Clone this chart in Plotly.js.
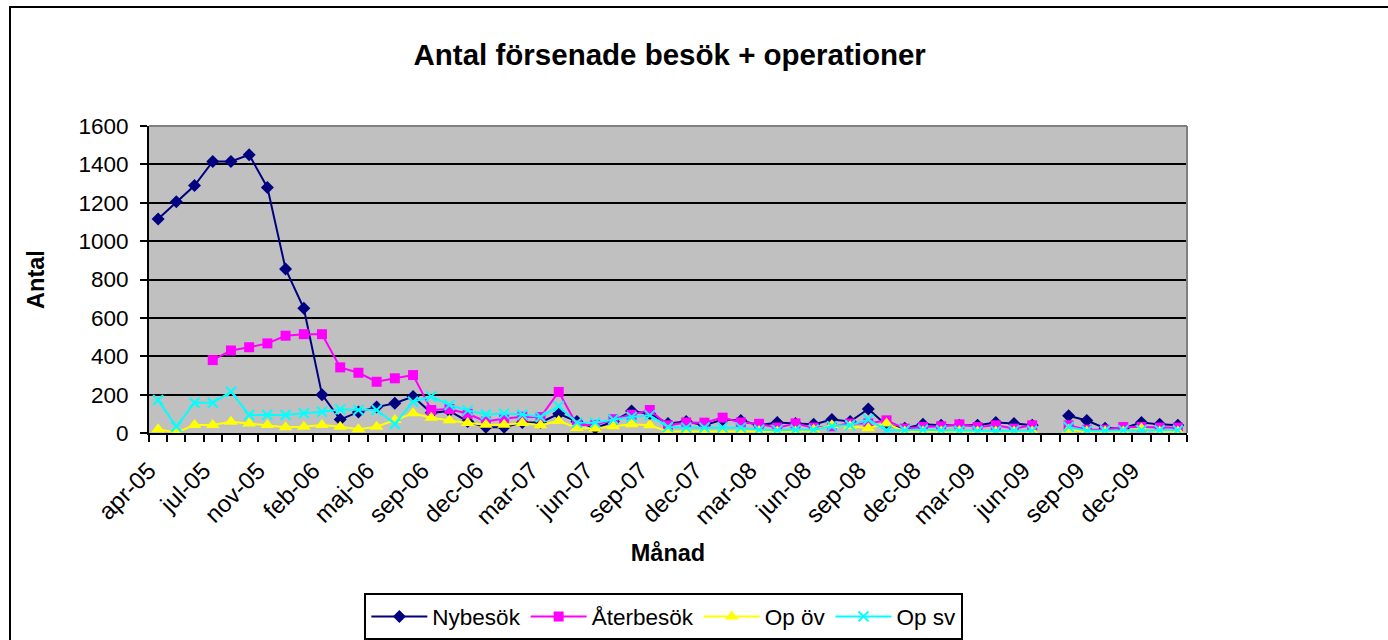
<!DOCTYPE html>
<html>
<head>
<meta charset="utf-8">
<script src="https://cdn.plot.ly/plotly-3.0.1.min.js"></script>
<style>
  html, body { margin: 0; padding: 0; background: #ffffff; }
  #chart { position: absolute; left: 0; top: 0; width: 1388px; height: 640px; }
  #frame { position: absolute; left: 9px; top: 6px; width: 1400px; height: 700px;
           border-left: 2px solid #000; border-top: 2px solid #000; pointer-events: none; }
</style>
</head>
<body>
<div id="chart"></div>
<div id="frame"></div>
<script>
// Month categories (57 points; aug-05 and jul-06 absent in the source)
const months = [
  "apr-05","maj-05","jun-05","jul-05","sep-05","okt-05","nov-05","dec-05","jan-06",
  "feb-06","mar-06","apr-06","maj-06","jun-06","aug-06","sep-06","okt-06","nov-06",
  "dec-06","jan-07","feb-07","mar-07","apr-07","maj-07","jun-07","jul-07","aug-07",
  "sep-07","okt-07","nov-07","dec-07","jan-08","feb-08","mar-08","apr-08","maj-08",
  "jun-08","jul-08","aug-08","sep-08","okt-08","nov-08","dec-08","jan-09","feb-09",
  "mar-09","apr-09","maj-09","jun-09","jul-09","aug-09","sep-09","okt-09","nov-09",
  "dec-09","jan-10","feb-10"
];

const nybesok = [
  1115,1205,1290,1415,1415,1450,1280,855,650,
  200,70,110,135,155,190,105,115,60,
  30,30,55,55,100,60,25,60,115,
  100,50,60,40,70,65,40,55,50,
  45,70,60,125,40,25,45,40,40,
  40,55,50,40,null,90,65,25,25,
  55,45,40
];

const aterbesok = [
  null,null,null,380,430,447,467,507,515,
  515,342,314,267,285,302,120,125,100,
  60,75,85,83,214,42,42,72,95,
  120,40,55,54,80,55,48,28,50,
  28,35,49,50,66,23,31,35,45,
  31,40,23,40,null,40,17,17,31,
  31,28,28
];

const opOv = [
  20,2,42,42,59,50,42,30,33,
  42,33,19,33,68,103,80,66,52,
  43,43,52,40,63,26,23,35,45,
  40,8,8,8,8,10,10,8,8,
  17,40,35,25,49,8,8,8,10,
  8,8,8,8,null,17,8,8,8,
  23,8,8
];

const opSv = [
  172,33,158,158,215,94,94,94,103,
  111,123,120,120,47,163,190,146,118,
  96,101,96,83,139,54,54,70,83,
  92,31,28,28,28,28,17,14,17,
  17,35,40,70,14,14,17,14,12,
  10,10,12,12,null,31,12,12,14,
  14,14,14
];

const yTicks = [0,200,400,600,800,1000,1200,1400,1600];

const xIdx = months.map((m, i) => i);
const labelIdx = xIdx.filter(i => i % 3 === 0);
const labelText = labelIdx.map(i => months[i]);
// rotated labels sit slightly left of their category centre in the source
const labelPos = labelIdx.map(i => i - 0.5);

const FONT = "Liberation Sans, Arial, sans-serif";

function series(name, y, color, symbol, size, lineW, mline) {
  return {
    type: "scatter", mode: "lines+markers", name: name,
    x: xIdx, y: y, text: months,
    connectgaps: false,
    line: { color: color, width: lineW },
    marker: { color: color, symbol: symbol, size: size,
              line: mline ? { color: color, width: 2 } : { width: 0 } }
  };
}

const data = [
  series("Nybesök", nybesok, "#000080", "diamond", 10, 2, false),
  series("Återbesök", aterbesok, "#FF00FF", "square", 10, 2, false),
  series("Op öv", opOv, "#FFFF00", "triangle-up", 12, 2, false),
  series("Op sv", opSv, "#00FFFF", "x-thin", 10, 2, true)
];

const layout = {
  width: 1388, height: 640,
  margin: { l: 149, r: 201, t: 126, b: 207, pad: 0, autoexpand: false },
  paper_bgcolor: "#ffffff",
  plot_bgcolor: "#C0C0C0",
  font: { family: FONT, color: "#000", size: 22 },
  title: { text: "<b>Antal försenade besök + operationer</b>",
           font: { family: FONT, size: 29.5, color: "#000" },
           x: 0.4825, xanchor: "center", y: 0.915, yanchor: "middle" },
  showlegend: true,
  legend: {
    orientation: "h", x: 0.496, xanchor: "center", y: -0.522, yanchor: "top",
    bordercolor: "#000", borderwidth: 2, bgcolor: "#fff",
    font: { family: FONT, size: 22.5, color: "#000" },
    itemwidth: 56,
    itemclick: false, tracegroupgap: 0
  },
  xaxis: {
    automargin: false,
    range: [-0.5, months.length - 0.5],
    tickmode: "array", tickvals: labelPos, ticktext: labelText,
    tickangle: -45, ticks: "", showgrid: false, zeroline: false,
    showline: true, linecolor: "#000", linewidth: 2,
    ticklabelstandoff: 12,
    tickfont: { family: FONT, size: 24, color: "#000" },
    minor: { ticks: "outside", tick0: -0.5, dtick: 1, ticklen: 7, tickwidth: 2,
             tickcolor: "#000", showgrid: false },
    title: { text: "<b>Månad</b>", font: { family: FONT, size: 23.5, color: "#000" }, standoff: 16 },
    fixedrange: true
  },
  yaxis: {
    automargin: false,
    range: [0, 1600], tickmode: "array", tickvals: yTicks,
    ticks: "outside", ticklen: 7, tickwidth: 2, tickcolor: "#000",
    ticklabelstandoff: 7,
    showgrid: true, gridcolor: "#000", gridwidth: 2, zeroline: false,
    showline: true, linecolor: "#000", linewidth: 2,
    tickfont: { family: FONT, size: 22.5, color: "#000" },
    title: { text: "<b>Antal</b>", font: { family: FONT, size: 23.5, color: "#000" }, standoff: 27 },
    fixedrange: true
  },
  shapes: [
    { type: "line", xref: "paper", yref: "paper", x0: 0, x1: 1, y0: 1, y1: 1,
      line: { color: "#808080", width: 2 }, layer: "above" },
    { type: "line", xref: "paper", yref: "paper", x0: 1, x1: 1, y0: 0, y1: 1,
      line: { color: "#808080", width: 2 }, layer: "above" }
  ]
};

Plotly.newPlot("chart", data, layout, { staticPlot: true, displayModeBar: false });
</script>
</body>
</html>
